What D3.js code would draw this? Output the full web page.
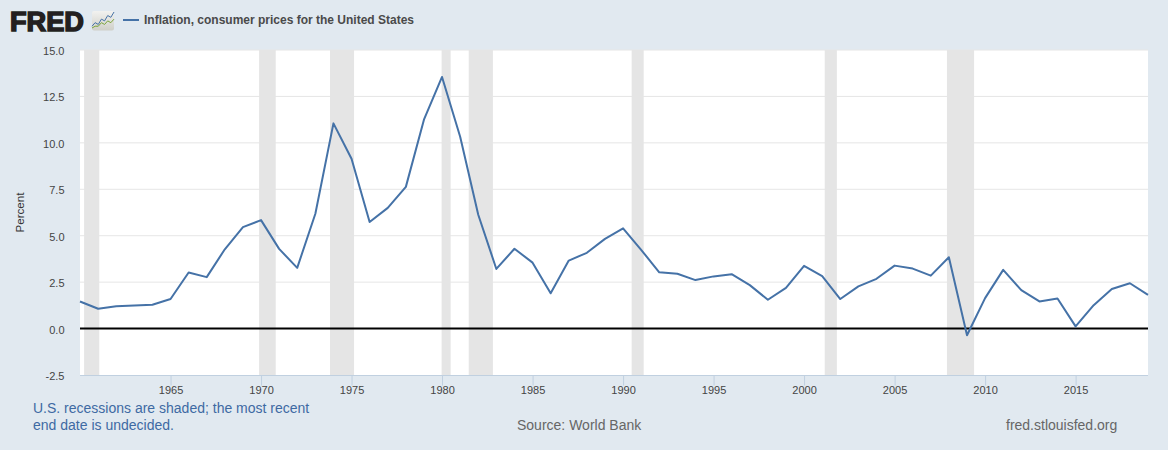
<!DOCTYPE html>
<html>
<head>
<meta charset="utf-8">
<style>
  html, body { margin: 0; padding: 0; background: #e1e9f0; }
  svg { display: block; font-family: "Liberation Sans", Arial, sans-serif; }
  .axis path { display: none; }
  .axis text { font-size: 11px; fill: #444; }
  #x-axis line { stroke: #c0d0e0; }
  #y-axis line { stroke: none; }
</style>
<script src="https://cdnjs.cloudflare.com/ajax/libs/d3/7.8.5/d3.min.js"></script>
</head>
<body>
<div class="container"></div>
<script>
const years = [1960, 1961, 1962, 1963, 1964, 1965, 1966, 1967, 1968, 1969,
  1970, 1971, 1972, 1973, 1974, 1975, 1976, 1977, 1978, 1979,
  1980, 1981, 1982, 1983, 1984, 1985, 1986, 1987, 1988, 1989,
  1990, 1991, 1992, 1993, 1994, 1995, 1996, 1997, 1998, 1999,
  2000, 2001, 2002, 2003, 2004, 2005, 2006, 2007, 2008, 2009,
  2010, 2011, 2012, 2013, 2014, 2015, 2016, 2017, 2018, 2019];
const inflation = [1.46, 1.07, 1.2, 1.24, 1.28, 1.59, 3.02, 2.77, 4.27, 5.46,
  5.84, 4.29, 3.27, 6.18, 11.05, 9.14, 5.74, 6.5, 7.63, 11.25,
  13.55, 10.33, 6.13, 3.21, 4.3, 3.55, 1.9, 3.66, 4.08, 4.83,
  5.4, 4.24, 3.03, 2.95, 2.61, 2.81, 2.93, 2.34, 1.55, 2.19,
  3.38, 2.83, 1.59, 2.27, 2.68, 3.39, 3.23, 2.85, 3.84, -0.36,
  1.64, 3.16, 2.07, 1.46, 1.62, 0.12, 1.26, 2.13, 2.44, 1.81];
const recessionStarts = ["1960-04", "1969-12", "1973-11", "1980-01", "1981-07", "1990-07", "2001-03", "2007-12"];
const recessionEnds = ["1961-02", "1970-11", "1975-03", "1980-07", "1982-11", "1991-03", "2001-11", "2009-06"];
const yTicks = [-2.5, 0, 2.5, 5, 7.5, 10, 12.5, 15];
const xTickYears = [1965, 1970, 1975, 1980, 1985, 1990, 1995, 2000, 2005, 2010, 2015];

// little chart in the logo
const logoBlue = [1, 3, 2, 5, 4, 7, 6, 9];
const logoGreen = [0, 1, 1, 3, 2, 4, 3, 5];

const w = 1168;
const h = 450;
const left = 80;
const right = 1148;
const top_ = 50;
const bottom = 375;

const parseMonth = d3.timeParse("%Y-%m");
const yearDate = (y) => new Date(y, 0, 1);

const xScale = d3.scaleTime()
  .domain([yearDate(1960), yearDate(2019)])
  .range([left, right]);
const yScale = d3.scaleLinear()
  .domain([-2.5, 15])
  .range([bottom, top_]);

const svg = d3.select(".container")
  .append("svg")
  .attr("width", w)
  .attr("height", h);

svg.append("rect")
  .attr("x", left)
  .attr("y", top_)
  .attr("width", right - left)
  .attr("height", bottom - top_)
  .attr("fill", "#fff");

// grid
svg.append("g")
  .selectAll("line")
  .data(yTicks.filter((d) => d !== 0 && d !== -2.5))
  .enter()
  .append("line")
  .attr("x1", left)
  .attr("x2", right)
  .attr("y1", (d) => yScale(d))
  .attr("y2", (d) => yScale(d))
  .attr("stroke", "#e6e6e6");

// recessions
svg.append("g")
  .selectAll("rect")
  .data(recessionStarts)
  .enter()
  .append("rect")
  .attr("x", (d) => xScale(parseMonth(d)) - 0.4)
  .attr("y", top_)
  .attr("width", (d, i) => xScale(parseMonth(recessionEnds[i])) - xScale(parseMonth(d)))
  .attr("height", bottom - top_)
  .attr("fill", "#e5e5e5");

const xAxis = d3.axisBottom(xScale)
  .tickValues(xTickYears.map(yearDate))
  .tickFormat(d3.timeFormat("%Y"))
  .tickSizeOuter(0)
  .tickSize(10)
  .tickPadding(1);
svg.append("g")
  .attr("id", "x-axis")
  .attr("class", "axis")
  .attr("transform", "translate(0," + (bottom + 0.5) + ")")
  .call(xAxis);

svg.append("line")
  .attr("x1", left)
  .attr("x2", right)
  .attr("y1", bottom + 0.5)
  .attr("y2", bottom + 0.5)
  .attr("stroke", "#c0d0e0");

const yAxis = d3.axisLeft(yScale)
  .tickValues(yTicks)
  .tickFormat((d) => d.toFixed(1))
  .tickSize(0)
  .tickPadding(15.5);
svg.append("g")
  .attr("id", "y-axis")
  .attr("class", "axis")
  .attr("transform", "translate(" + left + ",1)")
  .call(yAxis);

// zero line
svg.append("line")
  .attr("x1", left)
  .attr("x2", right)
  .attr("y1", yScale(0))
  .attr("y2", yScale(0))
  .attr("stroke", "#000")
  .attr("stroke-width", 2);

const line = d3.line()
  .x((d, i) => xScale(yearDate(years[i])))
  .y((d) => yScale(d));
svg.append("path")
  .datum(inflation)
  .attr("d", line)
  .attr("fill", "none")
  .attr("stroke", "#4572a7")
  .attr("stroke-width", 2)
  .attr("stroke-linejoin", "round");

svg.append("text")
  .attr("transform", "translate(23.5," + ((top_ + bottom) / 2) + ") rotate(-90)")
  .attr("text-anchor", "middle")
  .attr("font-size", 11.6)
  .attr("fill", "#333")
  .text("Percent");

// header
svg.append("text")
  .attr("x", 10)
  .attr("y", 30.5)
  .attr("font-size", 27)
  .attr("font-weight", "bold")
  .attr("fill", "#231f20")
  .attr("stroke", "#231f20")
  .attr("stroke-width", 1.5)
  .attr("textLength", 74)
  .attr("lengthAdjust", "spacingAndGlyphs")
  .text("FRED");

const logoFill = svg.append("defs")
  .append("linearGradient")
  .attr("id", "logo-fill")
  .attr("x1", 0)
  .attr("x2", 0)
  .attr("y1", 0)
  .attr("y2", 1);
logoFill.append("stop").attr("offset", "0%").attr("stop-color", "#f2f2f0");
logoFill.append("stop").attr("offset", "100%").attr("stop-color", "#cfcfc8");

const logo = svg.append("g");
logo.append("rect")
  .attr("x", 92)
  .attr("y", 11)
  .attr("width", 22)
  .attr("height", 19.5)
  .attr("rx", 2)
  .attr("fill", "url(#logo-fill)");
const logoX = d3.scaleLinear().domain([0, logoBlue.length - 1]).range([92, 114]);
const logoY = d3.scaleLinear().domain([0, 9]).range([28, 12]);
const logoLine = d3.line().x((d, i) => logoX(i)).y((d) => logoY(d));
logo.append("path").attr("d", logoLine(logoBlue)).attr("fill", "none").attr("stroke", "#4572a7");
logo.append("path").attr("d", logoLine(logoGreen)).attr("fill", "none").attr("stroke", "#7aa43c");

svg.append("line")
  .attr("x1", 123)
  .attr("x2", 139)
  .attr("y1", 20)
  .attr("y2", 20)
  .attr("stroke", "#4572a7")
  .attr("stroke-width", 2);
svg.append("text")
  .attr("x", 144)
  .attr("y", 24)
  .attr("font-size", 12)
  .attr("font-weight", "bold")
  .attr("fill", "#4a4a4a")
  .text("Inflation, consumer prices for the United States");

// footer
const footnote = ["U.S. recessions are shaded; the most recent", "end date is undecided."];
svg.append("g")
  .selectAll("text")
  .data(footnote)
  .enter()
  .append("text")
  .attr("x", 33)
  .attr("y", (d, i) => 413 + i * 17)
  .attr("font-size", 14)
  .attr("fill", "#3e6aa3")
  .text((d) => d);
svg.append("text")
  .attr("x", 517)
  .attr("y", 430)
  .attr("font-size", 14)
  .attr("fill", "#666")
  .text("Source: World Bank");
svg.append("text")
  .attr("x", 1006)
  .attr("y", 430)
  .attr("font-size", 14)
  .attr("fill", "#666")
  .text("fred.stlouisfed.org");
</script>
</body>
</html>
